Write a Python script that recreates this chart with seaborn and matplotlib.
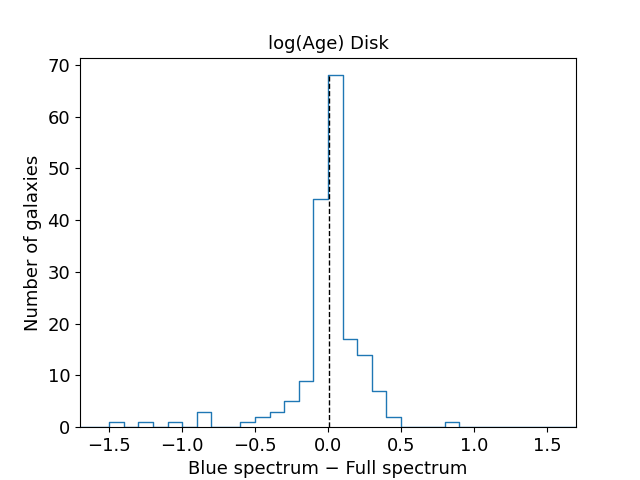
import matplotlib
matplotlib.use("Agg")

import matplotlib.pyplot as plt
import seaborn as sns
import numpy as np
import pandas as pd

# bin edges (width 0.1) and counts per bin
bin_left = [-1.5, -1.3, -1.1, -0.9, -0.6, -0.5, -0.4, -0.3, -0.2, -0.1,
            0.0, 0.1, 0.2, 0.3, 0.4, 0.8]
counts = [1, 1, 1, 3, 1, 2, 3, 5, 9, 44, 68, 17, 14, 7, 2, 1]
bin_range = (-2.0, 2.0)
bin_width = 0.1
median_diff = 0.01

plt.rcParams.update({"font.family": "DejaVu Sans"})

df = pd.DataFrame({"diff": np.array(bin_left) + 0.05, "n": counts})

fig, ax = plt.subplots(figsize=(6.4, 4.8), dpi=100)
sns.histplot(data=df, x="diff", weights="n", binwidth=bin_width,
             binrange=bin_range, element="step", fill=False,
             color="#1f77b4", linewidth=1, ax=ax)
ax.vlines(median_diff, 0, max(counts), colors="black", linestyles="--",
          linewidth=1)

ax.set_xlim(-1.7, 1.7)
ax.set_ylim(0, max(counts) * 1.05)
ax.set_xticks([-1.5, -1.0, -0.5, 0.0, 0.5, 1.0, 1.5])
ax.set_yticks(range(0, 71, 10))
ax.tick_params(labelsize=13)
ax.set_title("log(Age) Disk", fontsize=13)
ax.set_xlabel("Blue spectrum \u2212 Full spectrum", fontsize=13)
ax.set_ylabel("Number of galaxies", fontsize=13)

plt.savefig("out.png", dpi=100)
plt.close()
